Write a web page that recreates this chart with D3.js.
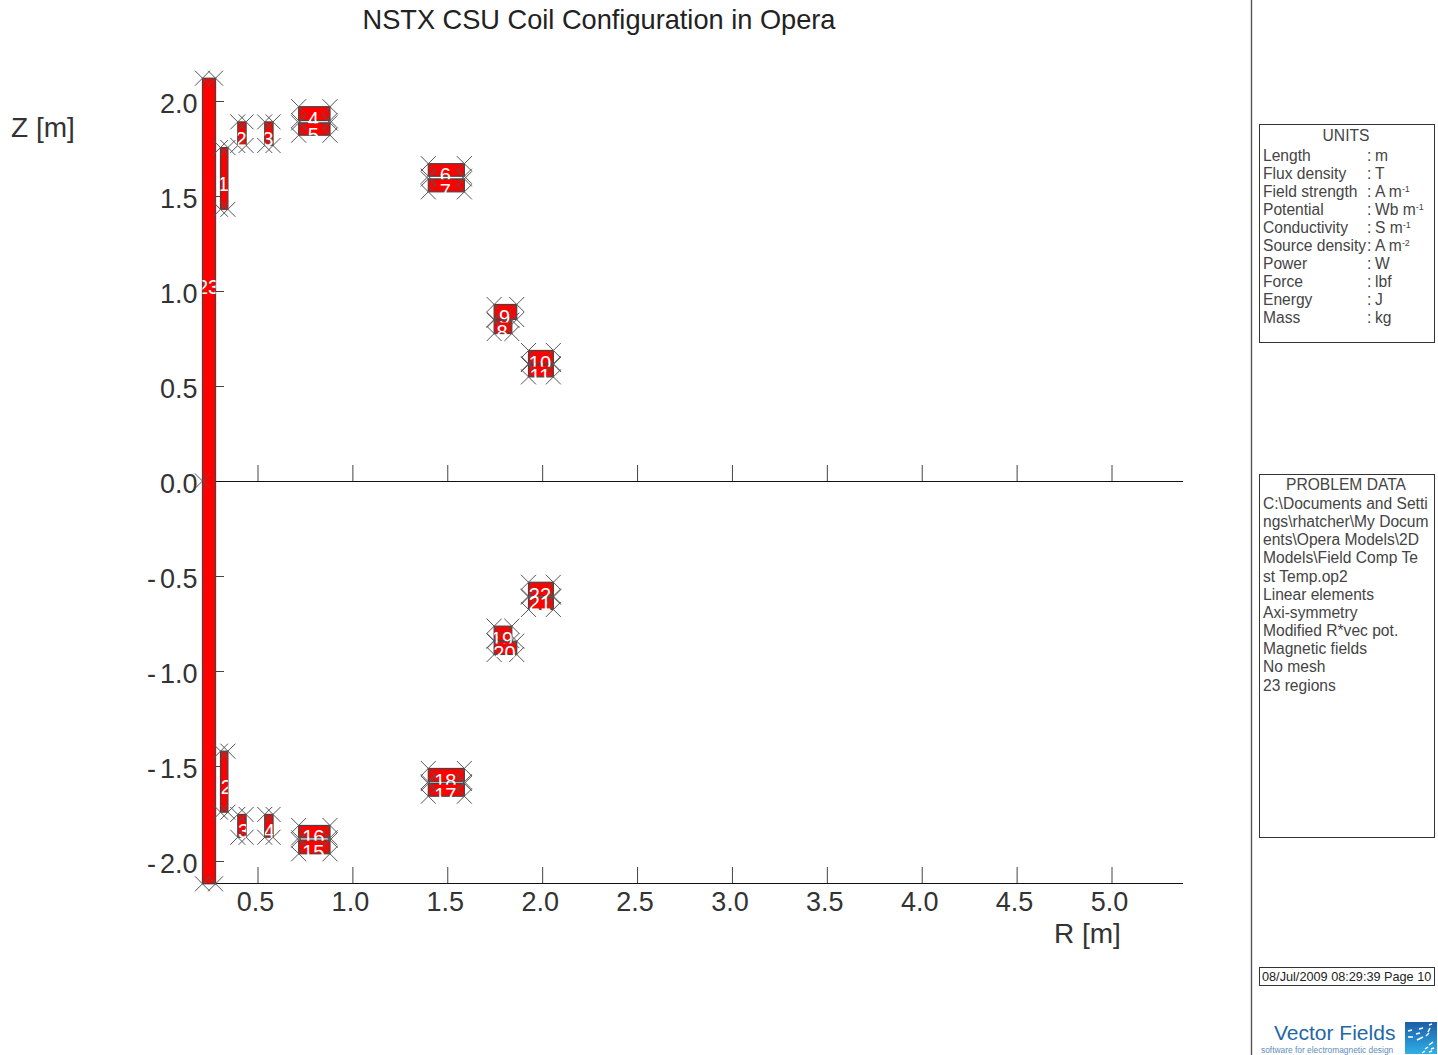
<!DOCTYPE html>
<html><head><meta charset="utf-8">
<script src="https://cdn.jsdelivr.net/npm/d3@7/dist/d3.min.js"></script>
<style>html,body{margin:0;padding:0;background:#fff;overflow:hidden}svg{display:block}text{font-family:"Liberation Sans",Arial,sans-serif}</style>
</head><body><svg id="c" width="1438" height="1055"></svg>
<script>
const coilIds = [23,1,2,3,4,5,6,7,8,9,10,11,22,21,19,20,12,13,14,16,15,18,17];
const rMin = [0.21,0.305,0.396,0.538,0.717,0.717,1.40,1.40,1.747,1.747,1.928,1.928,1.928,1.928,1.747,1.747,0.305,0.396,0.538,0.717,0.717,1.40,1.40];
const rMax = [0.279,0.344,0.44,0.582,0.882,0.882,1.59,1.59,1.84,1.866,2.059,2.059,2.059,2.059,1.84,1.866,0.344,0.44,0.582,0.882,0.882,1.59,1.59];
const zTop = [2.12,1.755,1.89,1.89,1.97,1.885,1.67,1.59,0.846,0.929,0.687,0.613,-0.533,-0.611,-0.764,-0.843,-1.422,-1.755,-1.755,-1.813,-1.89,-1.513,-1.592];
const zBot = [-2.12,1.43,1.766,1.766,1.897,1.82,1.604,1.522,0.776,0.85,0.617,0.548,-0.606,-0.676,-0.84,-0.913,-1.743,-1.875,-1.875,-1.878,-1.962,-1.583,-1.659];
const labelZOverride = {23:1.02, 21:-0.64};
const labelShift = {12:-2.5, 13:-3, 14:-4};
const extraMarkR = [0.21], extraMarkZ = [0];
const rTicks = [0.5,1.0,1.5,2.0,2.5,3.0,3.5,4.0,4.5,5.0];
const zTicks = [2.0,1.5,1.0,0.5,0.0,-0.5,-1.0,-1.5,-2.0];
const unitNames = ["Length","Flux density","Field strength","Potential","Conductivity","Source density","Power","Force","Energy","Mass"];
const unitBase = ["m","T","A m","Wb m","S m","A m","W","lbf","J","kg"];
const unitSup = ["","","-1","-1","-1","-2","","","",""];
const problemLines = ["C:\\Documents and Setti","ngs\\rhatcher\\My Docum","ents\\Opera Models\\2D","Models\\Field Comp Te","st Temp.op2","Linear elements","Axi-symmetry","Modified R*vec pot.","Magnetic fields","No mesh","23 regions"];

const svg = d3.select("#c");
const x = d3.scaleLinear().domain([0.5,5.0]).range([257.5,1111.5]);
const y = d3.scaleLinear().domain([2,-2]).range([101,861]);
const fmtAbs = v => d3.format(".1f")(Math.abs(v));
const coils = coilIds.map((id,i)=>({id,r0:rMin[i],r1:rMax[i],z0:zTop[i],z1:zBot[i]}));

// axes
const g = svg.append("g");
[[883,203],[481,216]].forEach(([yy,x0])=>{
  const a = g.append("g").attr("transform",`translate(0,${yy})`).call(d3.axisTop(x).tickValues(rTicks).tickSize(16).tickFormat(""));
  a.select(".domain").remove();
  a.selectAll("line").attr("stroke","#444");
  g.append("line").attr("x1",x0).attr("x2",1183).attr("y1",yy+0.5).attr("y2",yy+0.5).attr("stroke","#111");
});
const az = g.append("g").attr("transform","translate(224,0)").call(d3.axisLeft(y).tickValues(zTicks.filter(v=>v!==0)).tickSize(9).tickFormat(""));
az.select(".domain").remove(); az.selectAll("line").attr("stroke","#444");

g.selectAll(".rl").data(rTicks).join("text").attr("x",d=>x(d)-2).attr("y",911).attr("text-anchor","middle")
  .attr("font-size",27).attr("fill","#333").text(fmtAbs);
g.selectAll(".zl").data(zTicks).join("text").attr("x",197.5).attr("y",d=>y(d)+12).attr("text-anchor","end")
  .attr("font-size",27).attr("fill","#333")
  .each(function(d){
    const t = d3.select(this);
    if(d<0){ t.append("tspan").text("-"); t.append("tspan").attr("dx",4).text(fmtAbs(d)); }
    else t.text(fmtAbs(d));
  });

svg.append("text").attr("x",599).attr("y",29).attr("text-anchor","middle").attr("font-size",27.2).attr("fill","#222").text("NSTX CSU Coil Configuration in Opera");
svg.append("text").attr("x",11).attr("y",137).attr("font-size",28).attr("fill","#333").text("Z [m]");
svg.append("text").attr("x",1054).attr("y",943).attr("font-size",28).attr("fill","#333").text("R [m]");

// coils
svg.append("g").selectAll("rect").data(coils).join("rect")
  .attr("x",d=>x(d.r0)).attr("y",d=>y(d.z0))
  .attr("width",d=>x(d.r1)-x(d.r0)).attr("height",d=>y(d.z1)-y(d.z0))
  .attr("fill","#f00").attr("stroke","#444").attr("stroke-width",1.2);

// corner crosses
const corners = coils.flatMap(d=>[[d.r0,d.z0],[d.r1,d.z0],[d.r0,d.z1],[d.r1,d.z1]])
  .concat(extraMarkR.map((r,i)=>[r,extraMarkZ[i]]));
const arm = 7.5;
const cg = svg.append("g").attr("stroke","#555").attr("stroke-width",1).attr("fill","none");
cg.selectAll("path").data(corners).join("path")
  .attr("d",d=>{const a=x(d[0]),b=y(d[1]);return `M${a-arm},${b-arm}L${a+arm},${b+arm}M${a-arm},${b+arm}L${a+arm},${b-arm}`;});

// region labels are clipped to their own coil, as in the reference
const defs = svg.append("defs");
defs.selectAll("clipPath.coil").data(coils).join("clipPath").attr("class","coil").attr("id",d=>"clip"+d.id)
  .append("rect").attr("x",d=>x(d.r0)).attr("y",d=>y(d.z0)-3)
  .attr("width",d=>x(d.r1)-x(d.r0)).attr("height",d=>y(d.z1)-y(d.z0)+6);
svg.append("g").selectAll("g").data(coils).join("g").attr("clip-path",d=>`url(#clip${d.id})`)
  .append("text")
  .attr("x",d=>(x(d.r0)+x(d.r1))/2-1+(labelShift[d.id]||0))
  .attr("y",d=>(d.id in labelZOverride ? y(labelZOverride[d.id]) : (y(d.z0)+y(d.z1))/2+5.5)+7)
  .attr("text-anchor","middle").attr("font-size",20).attr("fill","#fff").text(d=>d.id);

// side panel
svg.append("line").attr("x1",1251.5).attr("x2",1251.5).attr("y1",0).attr("y2",1055).attr("stroke","#555").attr("stroke-width",1.4);
const box=(y0,y1)=>svg.append("rect").attr("x",1259.5).attr("y",y0+0.5).attr("width",175).attr("height",y1-y0).attr("fill","#fff").attr("stroke","#333");
box(124,342); box(474,837); box(967,985);
const side = svg.append("g").attr("font-size",15.6).attr("fill","#444");
side.append("text").attr("x",1346).attr("y",141).attr("text-anchor","middle").text("UNITS");
unitNames.forEach((n,i)=>{
  const b = 160.5+i*18.1;
  side.append("text").attr("x",1263).attr("y",b).text(n);
  side.append("text").attr("x",1367).attr("y",b).text(":");
  const t = side.append("text").attr("x",1375).attr("y",b).text(unitBase[i]);
  if(unitSup[i]) t.append("tspan").attr("dy",-5).attr("font-size",9).text(unitSup[i]);
});
side.append("text").attr("x",1346).attr("y",490).attr("text-anchor","middle").text("PROBLEM DATA");
problemLines.forEach((l,i)=>side.append("text").attr("x",1263).attr("y",509+i*18.15).text(l));
svg.append("text").attr("x",1262).attr("y",981).attr("font-size",12.7).attr("fill","#222").text("08/Jul/2009 08:29:39 Page 10");

// logo
svg.append("text").attr("x",1274).attr("y",1040).attr("font-size",21).attr("fill","#2467a6").text("Vector Fields");
svg.append("text").attr("x",1261).attr("y",1053).attr("font-size",8.4).attr("fill","#5f8dbb").text("software for electromagnetic design");
const lg = defs.append("linearGradient").attr("id","lg").attr("x1",0).attr("y1",0).attr("x2",0).attr("y2",1);
lg.append("stop").attr("offset",0).attr("stop-color","#1d5da8");
lg.append("stop").attr("offset",1).attr("stop-color","#2fb0e6");
const logo = svg.append("g").attr("transform","translate(1405,1022)");
logo.append("rect").attr("width",32).attr("height",32).attr("fill","url(#lg)");
logo.append("path").attr("stroke","#fff").attr("stroke-width",1.5).attr("fill","none")
 .attr("d","M24 3l3-1M14 7l4-1M3 9l4-1M23 10l2-4M11 12l4-1M3 15l5 0M12 18l6-3M21 14l3-3M24 23l4-3M20 27l3-2M26 27l3-1M17 31l3-2M24 30l3-1");
</script></body></html>
